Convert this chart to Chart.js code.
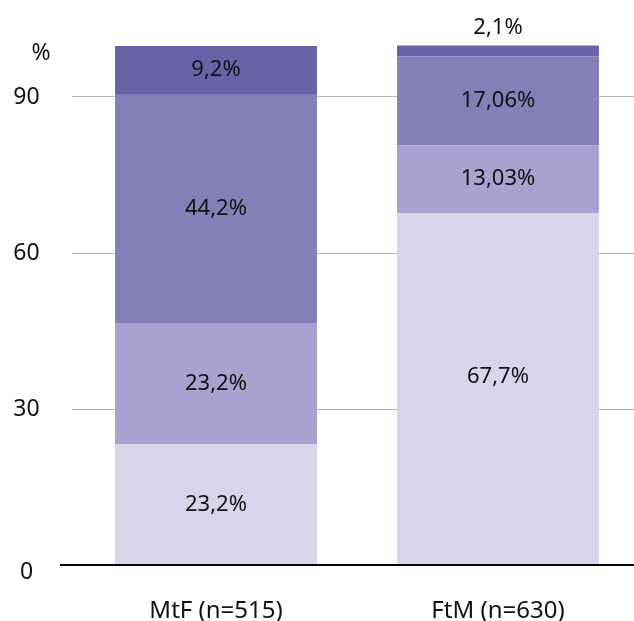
<!DOCTYPE html>
<html>
<head>
<meta charset="utf-8">
<script src="https://cdn.jsdelivr.net/npm/chart.js@4/dist/chart.umd.min.js"></script>
<style>
  html, body { margin: 0; padding: 0; background: #fff; overflow: hidden; }
  canvas { display: block; }
</style>
</head>
<body>
<canvas id="c" width="640" height="621"></canvas>
<script>
// Groups and their stacked shares (percent)
const categories = ['MtF (n=515)', 'FtM (n=630)'];
const segment1 = [23.2, 67.7];
const segment2 = [23.2, 13.03];
const segment3 = [44.2, 17.06];
const segment4 = [9.2, 2.1];
const yTicks = [0, 30, 60, 90];

const FONT = '"Noto Sans", "Open Sans", sans-serif';
const colors = ['#d8d4ea', '#a9a1d0', '#857fb8', '#6a62a8'];
const series = [segment1, segment2, segment3, segment4];

const fmt = v => String(v).replace('.', ',') + '%';

// Value labels inside each segment (above the bar when the segment is too thin)
const valueLabels = {
  id: 'valueLabels',
  afterDatasetsDraw(chart) {
    const ctx = chart.ctx;
    ctx.save();
    ctx.font = '22px ' + FONT;
    ctx.fillStyle = '#111';
    ctx.textAlign = 'center';
    ctx.textBaseline = 'middle';
    chart.data.datasets.forEach((ds, di) => {
      chart.getDatasetMeta(di).data.forEach((bar, i) => {
        const top = Math.min(bar.y, bar.base);
        const h = Math.abs(bar.base - bar.y);
        // tall segments keep their label a little above the middle
        let y = h < 24 ? top - 18 : top + h / 2;
        if (h > 300) y -= 12;
        ctx.fillText(fmt(ds.data[i]), bar.x, y);
      });
    });
    ctx.restore();
  }
};

// Value-axis labels, zero baseline and the unit label
const axisExtras = {
  id: 'axisExtras',
  afterDraw(chart) {
    const ctx = chart.ctx;
    const ys = chart.scales.y;
    const y0 = ys.getPixelForValue(0);
    ctx.save();
    ctx.strokeStyle = '#000';
    ctx.lineWidth = 2;
    ctx.beginPath();
    ctx.moveTo(60, y0);
    ctx.lineTo(chart.width, y0);
    ctx.stroke();
    ctx.font = '23px ' + FONT;
    ctx.fillStyle = '#111';
    ctx.textAlign = 'center';
    ctx.textBaseline = 'middle';
    yTicks.forEach(v => {
      // the zero label sits just below the baseline
      const dy = v === 0 ? 7 : 0;
      ctx.fillText(String(v), 26.5, ys.getPixelForValue(v) + dy);
    });
    ctx.fillText('%', 41, 53);
    ctx.restore();
  }
};

new Chart(document.getElementById('c'), {
  type: 'bar',
  data: {
    labels: categories,
    datasets: series.map((d, i) => ({
      data: d,
      backgroundColor: colors[i],
      borderWidth: 0,
      categoryPercentage: 1,
      barPercentage: 0.716
    }))
  },
  options: {
    responsive: false,
    animation: false,
    devicePixelRatio: 1,
    layout: { padding: { top: 45, right: 1, left: 0, bottom: 0 } },
    plugins: { legend: { display: false }, tooltip: { enabled: false } },
    scales: {
      x: {
        stacked: true,
        grid: { display: false },
        border: { display: false },
        ticks: { color: '#111', font: { family: FONT, size: 24 }, padding: 24 },
        afterFit(s) { s.height = 56; }
      },
      y: {
        stacked: true,
        min: 0,
        max: 100,
        afterBuildTicks(s) { s.ticks = yTicks.map(v => ({ value: v })); },
        grid: {
          color: c => (c.tick && c.tick.value === 0) ? 'rgba(0,0,0,0)' : '#b4b4b4',
          lineWidth: 1,
          tickLength: 3,
          drawTicks: true
        },
        border: { display: false },
        ticks: { display: false },
        afterFit(s) { s.width = 75; }
      }
    }
  },
  plugins: [valueLabels, axisExtras]
});
</script>
</body>
</html>
